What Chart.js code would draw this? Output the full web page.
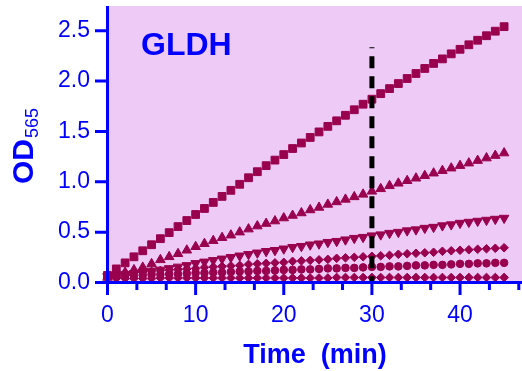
<!DOCTYPE html>
<html><head><meta charset="utf-8">
<script src="https://cdn.jsdelivr.net/npm/chart.js@4"></script>
<style>html,body{margin:0;padding:0;background:#ffffff;overflow:hidden}</style>
</head><body>
<canvas id="c" width="522" height="371" style="display:block;width:522px;height:371px"></canvas>
<script>
// ---- data ----
const timeMin = [0,1,2,3,4,5,6,7,8,9,10,11,12,13,14,15,16,17,18,19,20,21,22,23,24,25,26,27,28,29,30,31,32,33,34,35,36,37,38,39,40,41,42,43,44,45];
const odSquare = [0.07,0.135,0.195,0.255,0.315,0.375,0.435,0.495,0.555,0.615,0.675,0.735,0.795,0.855,0.915,0.975,1.04,1.10,1.16,1.215,1.27,1.33,1.385,1.44,1.495,1.55,1.605,1.66,1.715,1.77,1.82,1.875,1.925,1.975,2.025,2.075,2.125,2.175,2.22,2.27,2.315,2.36,2.405,2.45,2.495,2.54];
const odTriangle = [0.05,0.075,0.10,0.125,0.15,0.185,0.225,0.255,0.285,0.32,0.355,0.385,0.415,0.445,0.47,0.50,0.53,0.56,0.585,0.61,0.64,0.665,0.69,0.72,0.745,0.775,0.80,0.825,0.85,0.875,0.905,0.93,0.96,0.985,1.01,1.035,1.06,1.085,1.11,1.135,1.16,1.185,1.21,1.235,1.26,1.285];
const odTriangleDown = [0.06,0.07,0.08,0.09,0.10,0.115,0.125,0.14,0.155,0.17,0.19,0.205,0.22,0.235,0.25,0.265,0.28,0.295,0.31,0.32,0.335,0.35,0.36,0.375,0.385,0.40,0.41,0.425,0.44,0.45,0.465,0.475,0.49,0.50,0.515,0.525,0.54,0.55,0.565,0.575,0.59,0.60,0.61,0.62,0.63,0.64];
const odDiamondHigh = [0.08,0.09,0.095,0.10,0.105,0.11,0.12,0.125,0.13,0.135,0.14,0.15,0.155,0.16,0.165,0.17,0.18,0.185,0.19,0.195,0.20,0.21,0.215,0.22,0.225,0.23,0.24,0.245,0.25,0.255,0.26,0.265,0.27,0.28,0.285,0.29,0.295,0.30,0.31,0.315,0.32,0.325,0.33,0.335,0.34,0.345];
const odCircle = [0.06,0.065,0.07,0.07,0.075,0.08,0.08,0.085,0.085,0.09,0.095,0.095,0.10,0.10,0.105,0.11,0.11,0.115,0.115,0.12,0.125,0.125,0.13,0.13,0.135,0.14,0.14,0.145,0.145,0.15,0.155,0.155,0.16,0.16,0.165,0.17,0.17,0.175,0.175,0.18,0.185,0.185,0.19,0.19,0.195,0.195];
const odDiamondLow = [0.04,0.04,0.04,0.04,0.04,0.04,0.045,0.045,0.045,0.045,0.045,0.045,0.045,0.045,0.045,0.045,0.045,0.045,0.045,0.045,0.045,0.045,0.045,0.045,0.045,0.045,0.05,0.05,0.05,0.05,0.05,0.05,0.05,0.05,0.05,0.05,0.05,0.05,0.05,0.05,0.05,0.05,0.05,0.05,0.05,0.05];
const cutoffTime = [30, 30];
const cutoffOD = [2.335, 0];
const yTickValues = [0, 0.5, 1.0, 1.5, 2.0, 2.5];
const xLabelValues = [0, 10, 20, 30, 40];
const xTickValues = [0,10/3,20/3,10,40/3,50/3,20,70/3,80/3,30,100/3,110/3,40,130/3,140/3];
const titleText = "GLDH";
const xTitle = "Time  (min)";
const yTitleMain = "OD";
const yTitleSub = "565";

// ---- styles ----
const BLUE = "#0000FF";
const MARK = "#99004D";
const PINK = "#EECBF6";
const FONT = "'Liberation Sans', Arial, Helvetica, sans-serif";

const pts = (xs, ys) => xs.map((x, i) => ({x: x, y: ys[i]}));
function markerSet(values, style, radius, rotation) {
  return {
    type: 'scatter', data: pts(timeMin, values), showLine: false,
    pointStyle: style, pointRadius: radius, pointRotation: rotation || 0,
    pointBackgroundColor: MARK, pointBorderColor: MARK, pointBorderWidth: 1,
    clip: false
  };
}

const decor = {
  id: 'decor',
  beforeDraw(chart) {
    const {ctx, chartArea: a} = chart;
    ctx.save();
    ctx.fillStyle = PINK;
    ctx.fillRect(a.left, a.top, 522 - a.left, a.bottom - a.top);
    ctx.restore();
  },
  afterDatasetsDraw(chart) {
    const {ctx, chartArea: a, scales} = chart;
    const xs = scales.x, ys = scales.y;
    ctx.save();
    ctx.strokeStyle = BLUE;
    ctx.lineWidth = 3;
    ctx.lineCap = 'butt';
    ctx.beginPath();
    ctx.moveTo(a.left, a.top); ctx.lineTo(a.left, a.bottom + 1.5);
    ctx.moveTo(a.left - 1.5, a.bottom); ctx.lineTo(522, a.bottom);
    ctx.stroke();
    ctx.beginPath();
    yTickValues.forEach(v => {
      const y = ys.getPixelForValue(v);
      ctx.moveTo(a.left - 12.5, y); ctx.lineTo(a.left, y);
    });
    xTickValues.forEach(v => {
      const x = xs.getPixelForValue(v);
      const major = xLabelValues.some(m => Math.abs(m - v) < 1e-6);
      ctx.moveTo(x, a.bottom); ctx.lineTo(x, a.bottom + (major ? 12.5 : 7.5));
    });
    ctx.stroke();
    ctx.fillStyle = BLUE;
    ctx.textAlign = 'left';
    ctx.textBaseline = 'alphabetic';
    ctx.font = "bold 32px " + FONT;
    ctx.fillText(titleText, 141, 55);
    ctx.textAlign = 'center';
    ctx.font = "bold 27px " + FONT;
    ctx.fillText(xTitle, 315, 363);
    ctx.translate(33, 184);
    ctx.rotate(-Math.PI / 2);
    ctx.textAlign = 'left';
    ctx.font = "bold 30px " + FONT;
    ctx.fillText(yTitleMain, 0, 0);
    const w = ctx.measureText(yTitleMain).width;
    ctx.font = "18px " + FONT;
    ctx.fillText(yTitleSub, w + 1, 5);
    ctx.restore();
  }
};

new Chart(document.getElementById('c'), {
  type: 'scatter',
  data: {
    datasets: [
      { type: 'line', data: pts(cutoffTime, cutoffOD), showLine: true, borderColor: '#000000',
        borderWidth: 5, borderDash: [12, 8], borderDashOffset: 11, pointRadius: 0, fill: false, clip: false },
      markerSet(odSquare, 'rect', 5.5),
      markerSet(odTriangle, 'triangle', 5.5),
      markerSet(odTriangleDown, 'triangle', 5.5, 180),
      markerSet(odDiamondHigh, 'rectRot', 4.3),
      markerSet(odCircle, 'circle', 3.8),
      markerSet(odDiamondLow, 'rectRot', 4.3)
    ]
  },
  options: {
    responsive: false,
    animation: false,
    devicePixelRatio: 1,
    layout: { autoPadding: false, padding: { top: 6, right: 3.2, left: 0, bottom: 0 } },
    plugins: { legend: { display: false }, tooltip: { enabled: false } },
    scales: {
      x: {
        type: 'linear', min: 0, max: 140 / 3,
        afterBuildTicks: s => { s.ticks = xTickValues.map(v => ({ value: v })); },
        afterFit: s => { s.height = 88.5; s.paddingLeft = 0; s.paddingRight = 0; s.paddingTop = 0; s.paddingBottom = 0; },
        grid: { display: false, drawTicks: false },
        border: { display: false },
        ticks: {
          autoSkip: false, maxRotation: 0, minRotation: 0, padding: 19,
          color: BLUE, font: { family: FONT, size: 23 },
          callback: v => { const m = xLabelValues.find(t => Math.abs(t - v) < 1e-6); return m === undefined ? '' : String(m); }
        }
      },
      y: {
        type: 'linear', min: 0, max: 2.745,
        afterBuildTicks: s => { s.ticks = yTickValues.map(v => ({ value: v })); },
        afterFit: s => { s.width = 107.5; s.paddingLeft = 0; s.paddingRight = 0; s.paddingTop = 0; s.paddingBottom = 0; },
        grid: { display: false, drawTicks: false },
        border: { display: false },
        ticks: {
          padding: 17.5, color: BLUE, font: { family: FONT, size: 23 },
          callback: v => Number(v).toFixed(1)
        }
      }
    }
  },
  plugins: [decor]
});
</script>
</body></html>
